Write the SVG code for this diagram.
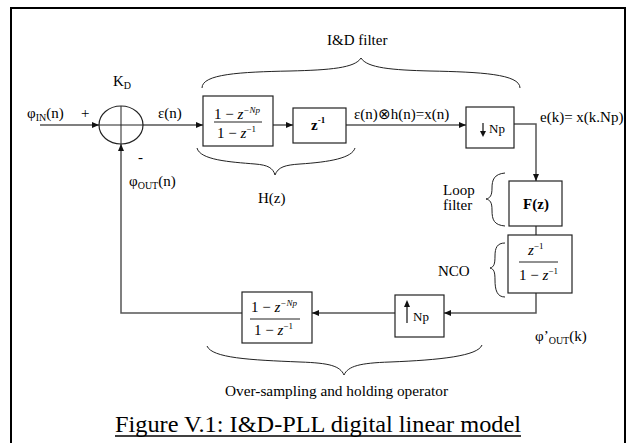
<svg xmlns="http://www.w3.org/2000/svg" width="629" height="443" viewBox="0 0 629 443">
<defs>
<style>
text{font-family:"Liberation Serif","Times New Roman",serif;fill:#000;}
.t{font-size:15px;}
.s{font-size:10px;}
.fr{font-size:15px;}
.it{font-style:italic;}
.b{font-weight:bold;}
.box{fill:#fff;stroke:#222;stroke-width:1.2;}
.ln{fill:none;stroke:#555;stroke-width:1.5;}
.br{fill:none;stroke:#222;stroke-width:1;}
.fl{stroke:#222;stroke-width:1;}
</style>
<marker id="ar" markerWidth="8" markerHeight="8" refX="7" refY="4" orient="auto" markerUnits="userSpaceOnUse">
<path d="M0,1 L7,4 L0,7 Z" fill="#111"/>
</marker>
</defs>
<rect x="11" y="8" width="614" height="450" fill="none" stroke="#000" stroke-width="2"/>

<g id="connectors">
<path class="ln" d="M40,125 H99" marker-end="url(#ar)"/>
<path class="ln" d="M143,125 H203" marker-end="url(#ar)"/>
<path class="ln" d="M273,125 H293" marker-end="url(#ar)"/>
<path class="ln" d="M346,125 H466" marker-end="url(#ar)"/>
<path class="ln" d="M514,124 H536 V181" marker-end="url(#ar)"/>
<path class="ln" d="M536,226 V235"/>
<path class="ln" d="M536,293 V313 H444" marker-end="url(#ar)"/>
<path class="ln" d="M395,313 H312" marker-end="url(#ar)"/>
<path class="ln" d="M242,313 H121 V144" marker-end="url(#ar)"/>
</g>

<g id="sum">
<ellipse cx="121" cy="125" rx="22" ry="19" fill="none" stroke="#222" stroke-width="1.2"/>
<path class="br" d="M99,125 H143 M121,106 V144"/>
<text class="t" x="113" y="86">K<tspan class="s" dy="3">D</tspan></text>
<text class="t" x="81" y="118">+</text>
<text class="t" x="138" y="162">-</text>
</g>

<g id="labels">
<text class="t" x="27" y="118">φ<tspan class="s" dy="3">IN</tspan><tspan dy="-3">(n)</tspan></text>
<text class="t" x="158" y="118">ε(n)</text>
<text class="t" x="354" y="119">ε(n)⊗h(n)=x(n)</text>
<text class="t" x="540" y="122">e(k)= x(k.Np)</text>
<text class="t" x="129" y="186">φ<tspan class="s" dy="3">OUT</tspan><tspan dy="-3">(n)</tspan></text>
<text class="t" x="535" y="341">φ’<tspan class="s" dy="3">OUT</tspan><tspan dy="-3">(k)</tspan></text>
</g>

<g id="box-hz">
<rect class="box" x="203" y="96" width="70" height="50"/>
<text class="fr" x="214" y="119">1 − <tspan class="it">z</tspan><tspan class="it" font-size="9" dy="-6">−Np</tspan></text>
<line class="fl" x1="214" y1="122" x2="262" y2="122"/>
<text class="fr" x="217" y="138">1 − <tspan class="it">z</tspan><tspan font-size="9" dy="-6">−1</tspan></text>
</g>

<g id="box-z1">
<rect class="box" x="293" y="108" width="53" height="35"/>
<text class="t b" x="311" y="130">z<tspan font-size="9" dy="-7">-1</tspan></text>
</g>

<g id="box-down">
<rect class="box" x="466" y="107" width="48" height="41"/>
<path d="M483,123 V133" stroke="#111" stroke-width="1.2"/>
<path d="M480,131 L483,137 L486,131 Z" fill="#111"/>
<text x="489" y="133" font-size="13">Np</text>
</g>

<g id="box-fz">
<rect class="box" x="509" y="181" width="53" height="45"/>
<text class="t b" x="536" y="209" text-anchor="middle">F(z)</text>
</g>

<g id="box-nco">
<rect class="box" x="508" y="235" width="64" height="58"/>
<text class="fr" x="528" y="255"><tspan class="it">z</tspan><tspan font-size="9" dy="-6">−1</tspan></text>
<line class="fl" x1="519" y1="262" x2="558" y2="262"/>
<text class="fr" x="519" y="280">1 − <tspan class="it">z</tspan><tspan font-size="9" dy="-6">−1</tspan></text>
</g>

<g id="box-up">
<rect class="box" x="395" y="295" width="49" height="42"/>
<path d="M407,305 V323" stroke="#111" stroke-width="1.2"/>
<path d="M404,307 L407,300 L410,307 Z" fill="#111"/>
<text x="413" y="321" font-size="13">Np</text>
</g>

<g id="box-hold">
<rect class="box" x="242" y="292" width="70" height="51"/>
<text class="fr" x="251" y="312">1 − <tspan class="it">z</tspan><tspan class="it" font-size="9" dy="-6">−Np</tspan></text>
<line class="fl" x1="250" y1="319" x2="300" y2="319"/>
<text class="fr" x="254" y="335">1 − <tspan class="it">z</tspan><tspan font-size="9" dy="-6">−1</tspan></text>
</g>

<g id="braces">
<path class="br" d="M202,88 C202,74 240,72 290,71 C330,70 355,68 361,58 C367,68 392,70 430,71 C480,72 520,74 520,88"/>
<text class="t" x="327" y="45">I&amp;D filter</text>
<path class="br" d="M197,148 C200,160 230,162 255,164 C268,165 273,168 275,175 C278,167 285,165 300,164 C330,162 352,158 355,148"/>
<text class="t" x="258" y="203">H(z)</text>
<path class="br" d="M505,173 C494,174 492,180 492,188 C492,196 490,198 486,199 C490,200 492,202 492,210 C492,220 494,225 505,226"/>
<text class="t" x="443" y="195">Loop</text>
<text class="t" x="443" y="210">filter</text>
<path class="br" d="M505,243 C497,243 495,248 495,256 C495,264 494,267 490,268 C494,269 495,272 495,280 C495,290 497,297 505,297"/>
<text class="t" x="438" y="276">NCO</text>
<path class="br" d="M207,346 C212,358 250,360 300,362 C330,363 340,366 344,375 C348,366 360,363 390,362 C440,360 478,356 482,345"/>
<text x="225" y="396" font-size="15" textLength="223" lengthAdjust="spacingAndGlyphs">Over-sampling and holding operator</text>
</g>

<g id="caption">
<text x="115" y="432" font-size="24" textLength="406" lengthAdjust="spacingAndGlyphs">Figure V.1: I&amp;D-PLL digital linear model</text>
<line x1="115" y1="436" x2="521" y2="436" stroke="#000" stroke-width="1.3"/>
</g>
</svg>
